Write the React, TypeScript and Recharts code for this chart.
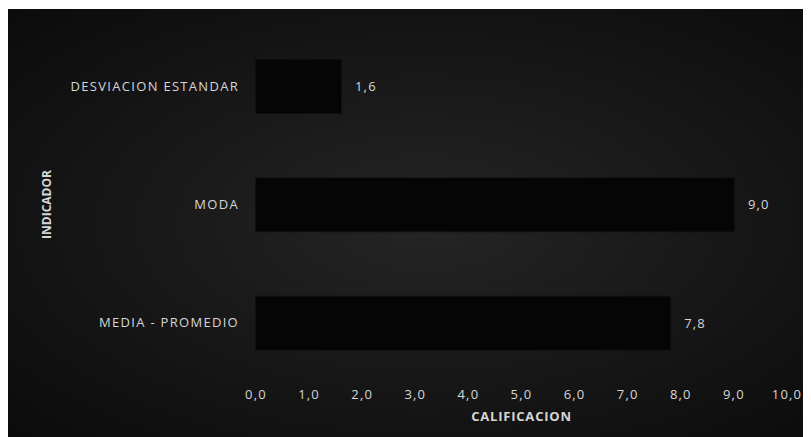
import React from 'react';
import { BarChart, Bar, XAxis, YAxis, LabelList } from 'recharts';

const categories = ['DESVIACION ESTANDAR', 'MODA', 'MEDIA - PROMEDIO'];
const values = [1.6, 9.0, 7.8];
const xTicks = [0, 1, 2, 3, 4, 5, 6, 7, 8, 9, 10];

const data = categories.map((c, i) => ({ name: c, value: values[i] }));

const fmt = (v: number) => Number(v).toFixed(1).replace('.', ',');

const FONT = '"Open Sans", "Liberation Sans", sans-serif';
const TEXT = '#d6d6d6';

export default function App() {
  return (
    <div
      style={{
        width: 803,
        height: 428,
        marginTop: 1,
        background: 'radial-gradient(ellipse at 52% 50%, #252525 0%, #191919 45%, #0b0b0b 100%)',
        fontFamily: FONT,
      }}
    >
      <BarChart
        width={803}
        height={428}
        data={data}
        layout="vertical"
        margin={{ top: 18, right: 24, bottom: 10, left: 0 }}
      >
        <XAxis
          type="number"
          domain={[0, 10]}
          ticks={xTicks}
          tickFormatter={fmt}
          axisLine={false}
          tickLine={false}
          height={45}
          tick={{ fill: TEXT, fontSize: 13, fontFamily: FONT, letterSpacing: 1.2 }}
          label={{
            value: 'CALIFICACION',
            position: 'insideBottom',
            offset: 6,
            style: { fill: TEXT, fontSize: 13, fontWeight: 700, fontFamily: FONT, letterSpacing: 0.8 },
          }}
        />
        <YAxis
          type="category"
          dataKey="name"
          width={248}
          axisLine={false}
          tickLine={false}
          tickSize={0}
          tickMargin={17}
          tick={{ fill: TEXT, fontSize: 13, fontFamily: FONT, letterSpacing: 1.3 }}
          label={{
            value: 'INDICADOR',
            angle: -90,
            position: 'insideLeft',
            offset: 39,
            style: { fill: TEXT, fontSize: 12, fontWeight: 700, fontFamily: FONT, textAnchor: 'middle' },
          }}
        />
        <Bar
          dataKey="value"
          fill="#050505"
          stroke="rgba(5,5,5,0.5)"
          strokeWidth={2}
          barSize={53}
          isAnimationActive={false}
        >
          <LabelList
            dataKey="value"
            position="right"
            offset={14}
            formatter={fmt}
            style={{ fill: TEXT, fontSize: 13, fontFamily: FONT, letterSpacing: 1.2 }}
          />
        </Bar>
      </BarChart>
    </div>
  );
}
